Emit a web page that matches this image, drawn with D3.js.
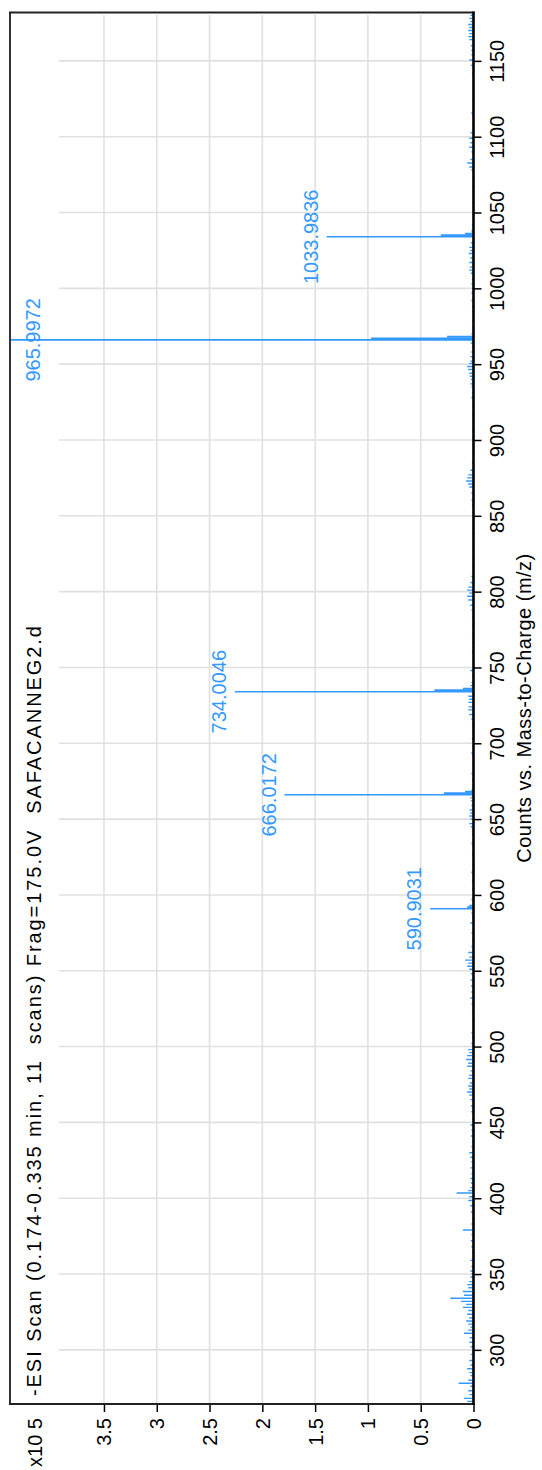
<!DOCTYPE html>
<html>
<head>
<meta charset="utf-8">
<script src="https://cdn.jsdelivr.net/npm/d3@7"></script>
<style>
  html, body { margin: 0; padding: 0; background: #fff; }
  svg { display: block; font-family: "Liberation Sans", Arial, sans-serif; }
  .pre { white-space: pre; }
</style>
</head>
<body>
<svg id="chart" width="542" height="1470"></svg>
<script>
// Labelled peaks (m/z, counts)
const peakMz     = [590.9031, 666.0172, 734.0046, 965.9972, 1033.9836];
const peakCounts = [41000, 179000, 226000, 439000, 139000];
const peakLabels = ["590.9031", "666.0172", "734.0046", "965.9972", "1033.9836"];

// Isotope peaks next to the labelled ones
const isoMz     = [591.91, 667.02, 668.02, 735.01, 736.01, 967.00, 968.00, 1034.99, 1035.99];
const isoCounts = [6000, 28000, 8000, 37000, 10000, 97000, 25000, 31000, 8000];

// Low-level background ions
const noiseMz = [
  264.5, 266, 268, 270.5, 273, 276, 278, 280, 283, 285, 287.5, 290, 293, 297,
  302, 305, 308, 311, 313, 315, 317, 319, 321, 323.5, 326, 328, 330, 332, 334, 336,
  338.5, 341, 343, 345, 348, 350, 352, 355, 359, 364, 368, 372, 376, 379, 383, 387,
  391, 395, 398.5, 401, 403.4, 405, 407, 410, 413, 416, 420, 424, 427, 430, 434, 437,
  441, 445, 448.3, 452, 457, 461, 465, 468, 470, 472, 474, 476, 479, 481, 484, 487,
  489, 491.5, 494, 496, 498, 502, 506, 509, 513, 517.5, 522, 528, 532, 536, 540, 544,
  548, 551, 553, 555, 557, 559, 562, 566, 570, 575, 581.5, 585, 588, 593, 597, 604,
  609, 615, 620, 627, 634, 640, 645, 647, 650, 652, 654, 656, 659, 662, 664, 669,
  672, 676, 680, 686, 693.6, 698, 703, 708, 712, 716, 719, 722, 724, 727, 729, 731,
  738, 740, 744, 748, 753, 760, 766, 772, 778, 783, 788, 791, 794.5, 797, 799, 801,
  803, 806, 810, 816, 822, 830, 838.7, 845, 852, 857, 860.5, 865, 869, 871, 873, 875,
  877, 880, 885, 892, 900, 906.6, 912, 916.5, 922, 928, 931, 935, 937, 940, 942, 944,
  946.5, 948.5, 950.5, 952, 955, 958, 961, 964, 970, 974, 979, 985, 988, 992, 997, 1000,
  1003, 1006, 1010, 1012, 1014, 1017, 1020, 1023, 1025, 1027, 1030, 1038, 1042, 1048, 1056, 1062,
  1067, 1073, 1078, 1080, 1082.7, 1085, 1090, 1093, 1096, 1099, 1102.5, 1108, 1115.6, 1120, 1124, 1130,
  1136, 1142, 1147, 1150.6, 1154, 1157, 1160, 1164, 1166, 1168, 1170, 1172, 1174, 1176, 1178, 1180
];
const noiseCounts = [
  18000, 6000, 9000, 4000, 5000, 3000, 14000, 5000, 3000, 4000, 6000, 3000, 4000, 2500,
  3000, 4000, 3500, 9000, 5000, 3000, 5000, 7000, 4000, 6000, 5000, 10000, 7000, 12000, 22000, 9000,
  10000, 5000, 6000, 4000, 3000, 2000, 3000, 2000, 3000, 1500, 2000, 2500, 2000, 10000, 2000, 1500,
  2500, 3000, 5000, 4000, 16000, 5000, 3000, 2500, 3000, 2000, 3000, 2000, 3000, 4000, 2000, 1500,
  2500, 2000, 3000, 1500, 2000, 2500, 3000, 4000, 6000, 4000, 5000, 3500, 5000, 4000, 3000, 6000,
  5000, 7000, 6000, 4000, 5000, 2000, 1500, 2000, 1000, 1000, 1500, 2000, 3000, 2000, 2500, 3000,
  2500, 4000, 6000, 5000, 8000, 4000, 5000, 2000, 1500, 2000, 3000, 1500, 2000, 4000, 2000, 1500,
  1500, 2000, 1000, 1500, 2000, 1500, 2500, 4000, 3000, 4000, 3000, 3500, 2000, 2500, 3000, 2000,
  1500, 1500, 2000, 1000, 2000, 1000, 1500, 1000, 1500, 2000, 4000, 5000, 4500, 5000, 4000, 5000,
  3000, 2000, 1500, 3000, 1000, 1500, 1000, 1500, 1000, 1500, 2000, 3000, 5000, 6000, 4000, 6000,
  5000, 3000, 2000, 1000, 1000, 1000, 1000, 800, 1000, 1500, 2000, 2000, 4000, 5000, 7000, 6000,
  5000, 3000, 1500, 1000, 1000, 1000, 800, 1000, 1000, 2000, 1500, 2000, 3000, 2500, 3500, 4000,
  5000, 6000, 4000, 3000, 3000, 2000, 1500, 2500, 2000, 1500, 1000, 1000, 1500, 2000, 2000, 1500,
  2000, 1500, 2500, 4000, 3500, 4000, 3000, 4500, 3000, 4000, 2500, 2000, 1500, 1000, 1000, 800,
  1000, 1000, 2000, 4000, 6000, 3000, 2000, 4000, 3000, 4000, 3000, 1000, 2000, 800, 1000, 800,
  1000, 1500, 2500, 4000, 2000, 2000, 2500, 4000, 5000, 4000, 5000, 4000, 5000, 3000, 4000, 3000
];

// Axis ticks and texts
const mzTicks = [300, 350, 400, 450, 500, 550, 600, 650, 700, 750, 800, 850, 900, 950, 1000, 1050, 1100, 1150];
const countTicks = [0, 50000, 100000, 150000, 200000, 250000, 300000, 350000];
const titleText = "-ESI Scan (0.174-0.335 min, 11  scans) Frag=175.0V  SAFACANNEG2.d";
const axisTitle = "Counts vs. Mass-to-Charge (m/z)";
const scaleText = "x10 5";

// Plot frame (the m/z axis runs up the right side, counts grow leftwards)
const frame = { left: 10, top: 12.5, right: 473.5, bottom: 1404 };
const blue = "#3399ff";

const svg = d3.select("#chart");

const x = d3.scaleLinear().domain([0, 439000]).range([frame.right, frame.left]);
const y = d3.scaleLinear().domain([264.3, 1181.9]).range([frame.bottom, frame.top]);

svg.append("defs").append("clipPath").attr("id", "plotClip")
  .append("rect")
  .attr("x", frame.left).attr("y", frame.top)
  .attr("width", frame.right - frame.left).attr("height", frame.bottom - frame.top);

// Grid
const grid = svg.append("g").attr("stroke", "#e0e0e0").attr("stroke-width", 1.6);
grid.selectAll("line.v").data(countTicks.filter(d => d > 0)).join("line")
  .attr("class", "v")
  .attr("x1", d => x(d)).attr("x2", d => x(d))
  .attr("y1", frame.top + 2.5).attr("y2", frame.bottom);
grid.selectAll("line.h").data(mzTicks).join("line")
  .attr("class", "h")
  .attr("x1", 59).attr("x2", frame.right)
  .attr("y1", d => y(d)).attr("y2", d => y(d));

// Spectrum sticks
const spec = svg.append("g").attr("clip-path", "url(#plotClip)").attr("stroke", blue);
spec.selectAll("line.noise").data(d3.zip(noiseMz, noiseCounts)).join("line")
  .attr("class", "noise")
  .attr("stroke-width", 1.4)
  .attr("x1", x(0)).attr("x2", d => x(d[1]))
  .attr("y1", d => y(d[0])).attr("y2", d => y(d[0]));
spec.selectAll("line.iso").data(d3.zip(isoMz, isoCounts)).join("line")
  .attr("class", "iso")
  .attr("stroke-width", 2)
  .attr("x1", x(0)).attr("x2", d => x(d[1]))
  .attr("y1", d => y(d[0])).attr("y2", d => y(d[0]));
spec.selectAll("line.peak").data(d3.zip(peakMz, peakCounts)).join("line")
  .attr("class", "peak")
  .attr("stroke-width", 1.6)
  .attr("x1", x(0)).attr("x2", d => x(d[1]))
  .attr("y1", d => y(d[0])).attr("y2", d => y(d[0]));

// Peak labels, placed just beyond each peak tip
svg.append("g").selectAll("text").data(d3.zip(peakMz, peakCounts, peakLabels)).join("text")
  .attr("fill", blue)
  .attr("font-size", 20)
  .attr("text-anchor", "middle")
  .attr("transform", d => `translate(${Math.max(x(d[1]) - 9, 40)},${y(d[0])}) rotate(-90)`)
  .text(d => d[2]);

// m/z axis
const mzAxis = svg.append("g")
  .attr("transform", `translate(${frame.right},0)`)
  .call(d3.axisRight(y).tickValues(mzTicks).tickSize(8).tickSizeOuter(0).tickFormat(d3.format("d")));
mzAxis.select(".domain").remove();
mzAxis.selectAll(".tick line").attr("stroke", "#000").attr("stroke-width", 1.5);
mzAxis.selectAll(".tick text")
  .attr("x", null).attr("dy", null)
  .attr("fill", "#000")
  .attr("font-size", 20)
  .attr("font-family", "Liberation Sans, Arial, sans-serif")
  .attr("text-anchor", "middle")
  .attr("transform", "translate(30,0) rotate(-90)");

// Counts axis
const cAxis = svg.append("g")
  .attr("transform", `translate(0,${frame.bottom})`)
  .call(d3.axisBottom(x).tickValues(countTicks).tickSize(8).tickSizeOuter(0).tickFormat(d => String(d / 1e5)));
cAxis.select(".domain").remove();
cAxis.selectAll(".tick line").attr("stroke", "#000").attr("stroke-width", 1.5);
cAxis.selectAll(".tick text")
  .attr("y", null).attr("dy", null)
  .attr("fill", "#000")
  .attr("font-size", 20)
  .attr("font-family", "Liberation Sans, Arial, sans-serif")
  .attr("text-anchor", "end")
  .attr("transform", "translate(7,14) rotate(-90)");

// Frame lines
svg.append("line")
  .attr("x1", frame.left).attr("x2", frame.left)
  .attr("y1", frame.top).attr("y2", frame.bottom)
  .attr("stroke", "#333").attr("stroke-width", 2);
svg.append("line")
  .attr("x1", frame.left - 1).attr("x2", frame.right + 1)
  .attr("y1", frame.top).attr("y2", frame.top)
  .attr("stroke", "#222").attr("stroke-width", 2);
svg.append("line")
  .attr("x1", frame.left - 1).attr("x2", frame.right + 1)
  .attr("y1", frame.bottom).attr("y2", frame.bottom)
  .attr("stroke", "#222").attr("stroke-width", 2);
svg.append("line")
  .attr("x1", frame.right).attr("x2", frame.right)
  .attr("y1", frame.top - 1).attr("y2", frame.bottom + 1)
  .attr("stroke", "#000").attr("stroke-width", 2.6);

// Texts
svg.append("text")
  .attr("class", "pre")
  .attr("font-size", 20)
  .attr("fill", "#000")
  .attr("text-anchor", "start")
  .attr("textLength", 770)
  .attr("lengthAdjust", "spacing")
  .attr("transform", "translate(41,1396) rotate(-90)")
  .text(titleText);

svg.append("text")
  .attr("font-size", 20)
  .attr("fill", "#000")
  .attr("text-anchor", "middle")
  .attr("textLength", 309)
  .attr("lengthAdjust", "spacing")
  .attr("transform", `translate(531,${(frame.top + frame.bottom) / 2}) rotate(-90)`)
  .text(axisTitle);

svg.append("text")
  .attr("class", "pre")
  .attr("font-size", 20)
  .attr("fill", "#000")
  .attr("text-anchor", "end")
  .attr("transform", "translate(42,1418) rotate(-90)")
  .text(scaleText);
</script>
</body>
</html>
